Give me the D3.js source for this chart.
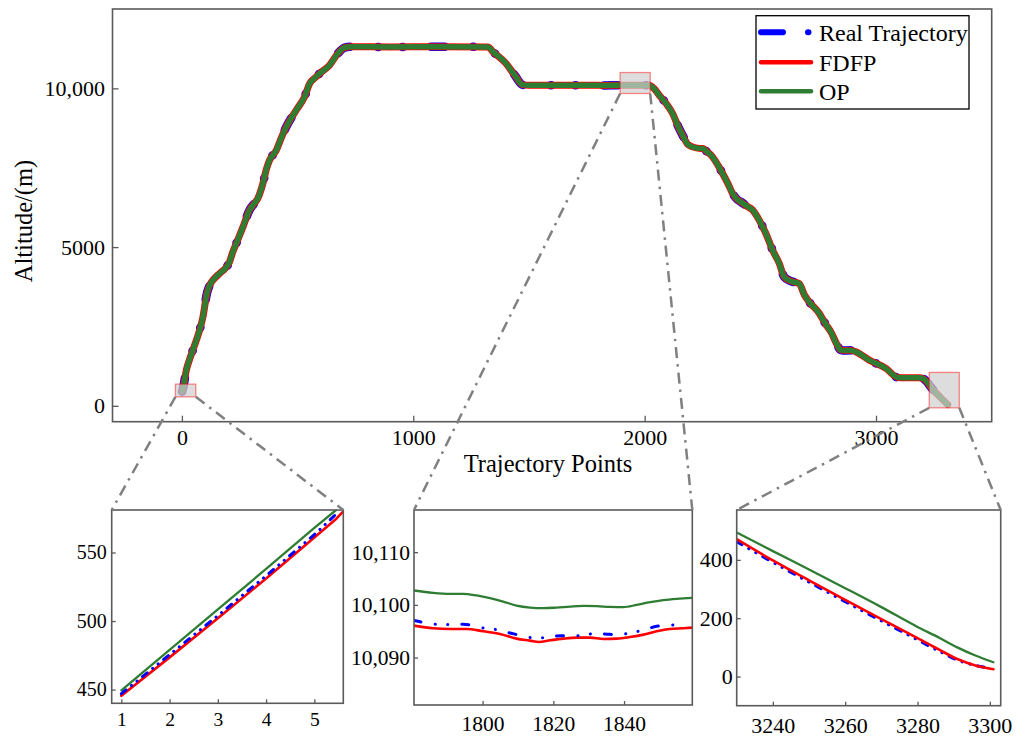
<!DOCTYPE html>
<html><head><meta charset="utf-8">
<script src="https://cdn.jsdelivr.net/npm/d3@7"></script>
<style>
body{margin:0;background:#fff}
svg{display:block}
text{font-family:"Liberation Serif","Times New Roman",serif;fill:#000}
</style>
</head><body>
<svg id="c" width="1030" height="738"></svg>
<script>
// ---------- data ----------
const seriesNames = ["Real Trajectory", "FDFP", "OP"];
const seriesColors = ["#0000ff", "#ff0000", "#2e7d32"];

// overview profile (the three series coincide at this scale)
const mainPoints = [1,6,19,35,55,75,91,108,120,134,163,190,206,220,235,264,292,310,328,350,365,379,408,430,451,494,530,552,575,595,638,674,703,730,900,1100,1322,1345,1401,1440,1473,1500,1700,1781,1820,1859,1950,2020,2040,2063,2090,2121,2145,2164,2185,2207,2235,2251,2270,2287,2337,2360,2380,2400,2416,2440,2467,2495,2524,2553,2582,2603,2632,2668,2690,2711,2755,2780,2805,2830,2848,2870,2885,2913,2971,3043,3093,3120,3187,3205,3218,3240,3275,3310];
const mainAltitude = [446,590,1124,1500,1911,2350,2803,3540,3800,3958,4169,4350,4535,4850,5114,5637,6163,6350,6531,7003,7450,7737,8052,8450,8786,9312,9731,10152,10330,10467,10729,11097,11286,11310,11305,11310,11305,11150,10782,10400,10110,10099,10097,10097,10094,10096,10098,10099,10000,9785,9550,9207,8800,8525,8250,8156,8110,8105,8000,7895,7318,7000,6689,6500,6424,6300,6163,5850,5429,4903,4484,4062,3927,3854,3500,3275,2910,2600,2330,1950,1754,1740,1750,1700,1439,1178,894,882,882,850,770,560,290,40];

const mainXTicks = [0, 1000, 2000, 3000];
const mainYTicks = [0, 5000, 10000];
const mainYTickLabels = ["0", "5000", "10,000"];

// zoom boxes drawn on the overview: [x0, x1, y0, y1]
const zoomBoxX0 = [-28, 1894, 3230];
const zoomBoxX1 = [60, 2024, 3360];
const zoomBoxY0 = [283, 9838, -63];
const zoomBoxY1 = [683, 10499, 1052];

// inset 1
const in1X = [1, 2, 3, 4, 5, 5.45, 5.6];
const in1Real = [447, 475.5, 504, 533, 563, 578, null];
const in1Fdfp = [445.5, 473.5, 502, 531, 561, 574.5, 580];
const in1Op = [449.5, 479, 508.5, 538, 568, 581, null];
const in1XTicks = [1, 2, 3, 4, 5];
const in1YTicks = [450, 500, 550];

// inset 2
const in2RealX = [1780.6,1786.0,1789.8,1794.5,1800.2,1804.0,1807.7,1810.6,1814.2,1818.1,1821.9,1824.7,1828.5,1831.8,1836.0,1837.9,1842.2,1845.5,1849.2,1852.1,1855.8];
const in2Real = [10097.02,10096.38,10096.25,10096.32,10095.62,10095.30,10094.67,10094.22,10093.78,10093.78,10094.16,10094.03,10094.29,10094.54,10094.41,10094.22,10094.79,10095.17,10095.94,10096.06,10096.38];
const in2FdfpX = [1780.6,1786.0,1790.8,1795.5,1800.2,1804.9,1809.6,1813.4,1815.9,1819.1,1822.8,1826.6,1830.4,1834.2,1837.9,1841.7,1845.5,1849.2,1853.0,1856.8,1859.3];
const in2Fdfp = [10096.06,10095.56,10095.43,10095.43,10094.98,10094.48,10093.59,10093.21,10092.95,10093.27,10093.59,10093.78,10093.78,10093.52,10093.59,10093.90,10094.35,10094.98,10095.43,10095.56,10095.68];
const in2OpX = [1780.6,1786.0,1790.8,1794.5,1798.3,1802.1,1805.8,1809.6,1813.4,1817.2,1820.9,1824.7,1828.5,1832.3,1836.0,1839.8,1843.6,1847.4,1851.1,1854.9,1859.3];
const in2Op = [10102.73,10102.29,10102.10,10102.10,10101.78,10101.27,10100.63,10099.87,10099.49,10099.37,10099.49,10099.68,10099.81,10099.75,10099.62,10099.56,10100.00,10100.51,10100.89,10101.14,10101.33];
const in2XTicks = [1800, 1820, 1840];
const in2YTicks = [10090, 10100, 10110];
const in2YTickLabels = ["10,090", "10,100", "10,110"];

// inset 3
const in3RealX = [3230, 3240, 3250, 3260, 3270, 3280, 3286, 3291, 3296, 3300];
const in3Real = [463, 392, 324, 257, 191, 126, 87, 57, 38, 29];
const in3FdfpX = [3230, 3240, 3250, 3260, 3270, 3280, 3286, 3291, 3296, 3301];
const in3Fdfp = [471, 398, 330, 263, 197, 132, 92, 60, 38, 25];
const in3OpX = [3230, 3240, 3250, 3260, 3270, 3280, 3286, 3291, 3296, 3301];
const in3Op = [494, 430, 367, 303, 238, 170, 133, 100, 72, 49];
const in3XTicks = [3240, 3260, 3280, 3300];
const in3YTicks = [0, 200, 400];

// ---------- drawing ----------
const svg = d3.select("#c");
const frameColor = "#5a5a5a";
const serif = '"Liberation Serif","Times New Roman",serif';

function panel(opts) {
  const {id, xd, yd, xr, yr, xTicks, yTicks, yLabels, xFont, yFont, xPad, yPad, tick} = opts;
  const x = d3.scaleLinear().domain(xd).range(xr);
  const y = d3.scaleLinear().domain(yd).range(yr);
  const g = svg.append("g");
  g.append("clipPath").attr("id", id).append("rect")
    .attr("x", xr[0]).attr("y", yr[1]).attr("width", xr[1] - xr[0]).attr("height", yr[0] - yr[1]);
  const lines = g.append("g").attr("clip-path", `url(#${id})`);
  const ax = g.append("g").attr("transform", `translate(0,${yr[0]})`)
    .call(d3.axisBottom(x).tickValues(xTicks).tickSize(-tick).tickPadding(xPad).tickFormat(d3.format("d")));
  ax.selectAll("text").style("font-size", xFont + "px");
  const ay = g.append("g").attr("transform", `translate(${xr[0]},0)`)
    .call(d3.axisLeft(y).tickValues(yTicks).tickSize(-tick).tickPadding(yPad)
      .tickFormat((d, i) => yLabels ? yLabels[i] : d3.format("d")(d)));
  ay.selectAll("text").style("font-size", yFont + "px");
  [ax, ay].forEach(a => {
    a.select(".domain").remove();
    a.selectAll("line").attr("stroke", frameColor).attr("stroke-width", 1.3);
    a.selectAll("text").attr("fill", "#000").style("font-family", serif);
  });
  g.append("rect").attr("x", xr[0]).attr("y", yr[1]).attr("width", xr[1] - xr[0]).attr("height", yr[0] - yr[1])
    .attr("fill", "none").attr("stroke", frameColor).attr("stroke-width", 1.6);
  return {x, y, g, lines};
}

function drawSeries(p, xs, ys, color, width, dash, curve) {
  const pts = xs.map((v, i) => [v, ys[i]]).filter(d => d[1] !== null);
  const line = d3.line().x(d => p.x(d[0])).y(d => p.y(d[1])).curve(curve || d3.curveMonotoneX);
  p.lines.append("path").attr("d", line(pts)).attr("fill", "none").attr("stroke", color)
    .attr("stroke-width", width).attr("stroke-linecap", "round").attr("stroke-linejoin", "round")
    .attr("stroke-dasharray", dash || null);
}

// main panel
const M = panel({id: "cm", xd: [-300, 3500], yd: [-500, 12500], xr: [112.5, 991.7], yr: [421.7, 9],
  xTicks: mainXTicks, yTicks: mainYTicks, yLabels: mainYTickLabels, xFont: 22, yFont: 22, xPad: 8, yPad: 7.5, tick: 6});
drawSeries(M, mainPoints, mainAltitude, seriesColors[0], 8.5, "14,28,0.5,24,0.5,28");
drawSeries(M, mainPoints, mainAltitude, seriesColors[1], 7);
drawSeries(M, mainPoints, mainAltitude, seriesColors[2], 5.5);

// zoom boxes
zoomBoxX0.forEach((v, i) => {
  const x0 = M.x(v), x1 = M.x(zoomBoxX1[i]), y0 = M.y(zoomBoxY1[i]), y1 = M.y(zoomBoxY0[i]);
  M.g.append("rect").attr("x", x0).attr("y", y0).attr("width", x1 - x0).attr("height", y1 - y0)
    .attr("fill", "#cfcfcf").attr("fill-opacity", 0.7)
    .attr("stroke", "#ff0000").attr("stroke-opacity", 0.45).attr("stroke-width", 1.3);
});

svg.append("text").attr("x", 548).attr("y", 472).attr("text-anchor", "middle")
  .style("font-size", "24.5px").text("Trajectory Points");
svg.append("text").attr("transform", "translate(32,221) rotate(-90)").attr("text-anchor", "middle")
  .style("font-size", "24.5px").text("Altitude/(m)");

// legend
const lg = svg.append("g");
lg.append("rect").attr("x", 756).attr("y", 15.7).attr("width", 213).attr("height", 93.3)
  .attr("fill", "#fff").attr("stroke", "#000").attr("stroke-width", 1.3);
const legY = [32.3, 62.3, 91.3];
const legW = [6, 4.5, 4.5];
const legDash = ["22,25,0.5,25", null, null];
seriesNames.forEach((n, i) => {
  lg.append("line").attr("x1", 761).attr("x2", 811).attr("y1", legY[i]).attr("y2", legY[i])
    .attr("stroke", seriesColors[i]).attr("stroke-width", legW[i]).attr("stroke-linecap", "round")
    .attr("stroke-dasharray", legDash[i]);
  lg.append("text").attr("x", 819).attr("y", legY[i] + 8.5).style("font-size", "24px").text(n);
});

// insets
const I1 = panel({id: "c1", xd: [0.8, 5.6], yd: [440, 581], xr: [111.7, 343.3], yr: [703.3, 510],
  xTicks: in1XTicks, yTicks: in1YTicks, xFont: 19.5, yFont: 20, xPad: 9, yPad: 5, tick: 4});
drawSeries(I1, in1X, in1Fdfp, seriesColors[1], 2.6, null, d3.curveLinear);
drawSeries(I1, in1X, in1Op, seriesColors[2], 2.3, null, d3.curveLinear);
drawSeries(I1, in1X, in1Real, seriesColors[0], 3, "6,7,0.1,7,0.1,7", d3.curveLinear);

const I2 = panel({id: "c2", xd: [1780.6, 1859.3], yd: [10081, 10118], xr: [414, 692.3], yr: [705, 510],
  xTicks: in2XTicks, yTicks: in2YTicks, yLabels: in2YTickLabels, xFont: 21.5, yFont: 21.5, xPad: 11, yPad: 4, tick: 4});
drawSeries(I2, in2FdfpX, in2Fdfp, seriesColors[1], 2.6);
drawSeries(I2, in2OpX, in2Op, seriesColors[2], 2.3);
drawSeries(I2, in2RealX, in2Real, seriesColors[0], 3, "7,14.5,0.1,12.4,0.1,14");

const I3 = panel({id: "c3", xd: [3230, 3303], yd: [-100, 571], xr: [736.7, 1000.7], yr: [705.7, 510],
  xTicks: in3XTicks, yTicks: in3YTicks, xFont: 22, yFont: 22, xPad: 12, yPad: 4, tick: 4});
drawSeries(I3, in3RealX, in3Real, seriesColors[0], 3.2, "6,8,0.1,8,0.1,8");
drawSeries(I3, in3FdfpX, in3Fdfp, seriesColors[1], 2.6);
drawSeries(I3, in3OpX, in3Op, seriesColors[2], 2.3);

// connectors from zoom boxes to insets
const insets = [I1, I2, I3];
zoomBoxX0.forEach((v, i) => {
  const P = insets[i];
  const by = M.y(zoomBoxY0[i]);
  const pairs = [[M.x(v), P.x.range()[0]], [M.x(zoomBoxX1[i]), P.x.range()[1]]];
  pairs.forEach(([bx, ix]) => {
    svg.append("line").attr("x1", bx).attr("y1", by).attr("x2", ix).attr("y2", P.y.range()[1])
      .attr("stroke", "#808080").attr("stroke-width", 2.5).attr("stroke-dasharray", "11,6,2.5,6");
  });
});
</script>
</body></html>
